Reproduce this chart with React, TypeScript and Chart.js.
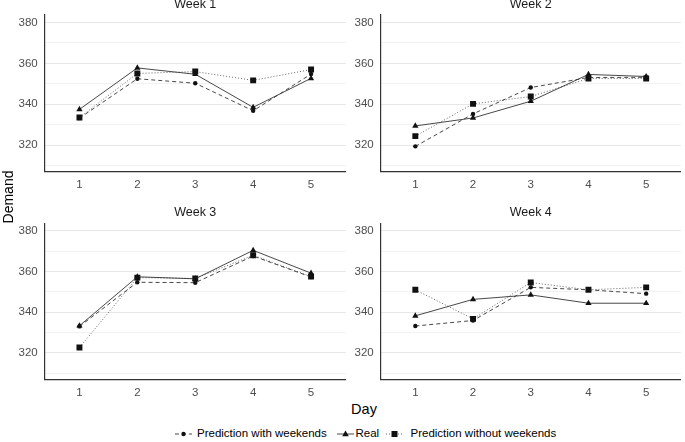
import React, { useEffect, useRef } from "react";
import { Chart, registerables } from "chart.js";
Chart.register(...registerables);

const FONT = "'Liberation Sans', Arial, Helvetica, sans-serif";
Chart.defaults.font.family = FONT;

// ---- data ----
const days = [1, 2, 3, 4, 5];
const weekTitles = ["Week 1", "Week 2", "Week 3", "Week 4"];
const seriesNames = ["Prediction with weekends", "Real", "Prediction without weekends"];
const yGridValues = [310, 320, 330, 340, 350, 360, 370, 380];
const yLabelValues = [320, 340, 360, 380];

const withWeekendsW1 = [333.2, 352.5, 350.3, 336.8, 354.8];
const realW1 = [337.5, 357.8, 354.7, 338.5, 352.7];
const withoutWeekendsW1 = [333.5, 355.1, 356.0, 351.7, 357.0];

const withWeekendsW2 = [319.4, 335.3, 348.2, 353.1, 353.2];
const realW2 = [329.4, 333.3, 341.5, 354.6, 353.6];
const withoutWeekendsW2 = [324.4, 340.2, 343.8, 352.6, 352.6];

const withWeekendsW3 = [333.0, 354.7, 354.5, 367.6, 357.3];
const realW3 = [333.3, 357.4, 356.4, 370.4, 359.2];
const withoutWeekendsW3 = [322.6, 357.0, 356.6, 368.0, 357.5];

const withWeekendsW4 = [333.2, 335.9, 352.2, 351.0, 349.1];
const realW4 = [338.2, 346.3, 348.5, 344.4, 344.4];
const withoutWeekendsW4 = [351.0, 336.7, 354.6, 351.0, 352.2];

const weekSeries = [
  [withWeekendsW1, realW1, withoutWeekendsW1],
  [withWeekendsW2, realW2, withoutWeekendsW2],
  [withWeekendsW3, realW3, withoutWeekendsW3],
  [withWeekendsW4, realW4, withoutWeekendsW4],
];

// ---- styles / layout ----
const seriesStyles = [
  { dash: [4, 3], point: "circle", radius: 2.2, line: "#333333" },
  { dash: [], point: "triangle", radius: 3.6, line: "#333333" },
  { dash: [1, 2], point: "rect", radius: 4.2, line: "#555555" },
];

const panels = [
  { left: 0, top: 0, w: 350, h: 200, yW: 44.7, padTop: 15, padRight: 4, xH: 28.3 },
  { left: 350, top: 0, w: 335, h: 200, yW: 30.7, padTop: 15, padRight: 2, xH: 28.3 },
  { left: 0, top: 200, w: 350, h: 200, yW: 44.7, padTop: 23.3, padRight: 4, xH: 20.7 },
  { left: 350, top: 200, w: 335, h: 200, yW: 30.7, padTop: 23.3, padRight: 2, xH: 20.7 },
];

function Panel({ idx }: { idx: number }) {
  const ref = useRef<HTMLCanvasElement>(null);
  const p = panels[idx];
  useEffect(() => {
    const title = weekTitles[idx];
    const titlePlugin = {
      id: "panelTitle",
      afterDraw(chart: any) {
        const { ctx, chartArea } = chart;
        ctx.save();
        ctx.font = `12.5px ${FONT}`;
        ctx.fillStyle = "#1a1a1a";
        ctx.textAlign = "center";
        ctx.textBaseline = "middle";
        ctx.fillText(title, (chartArea.left + chartArea.right) / 2, chartArea.top - 10.8);
        ctx.restore();
      },
    };
    const datasets = weekSeries[idx].map((vals, s) => {
      const st = seriesStyles[s];
      return {
        label: seriesNames[s],
        data: days.map((d, i) => ({ x: d, y: vals[i] })),
        borderColor: st.line,
        borderWidth: 0.9,
        borderDash: st.dash,
        pointStyle: st.point,
        pointRadius: st.radius,
        pointBackgroundColor: "#111111",
        pointBorderColor: "#111111",
        pointBorderWidth: 0,
        tension: 0,
        fill: false,
      };
    });
    const chart = new Chart(ref.current!, {
      type: "line",
      data: { datasets } as any,
      options: {
        responsive: false,
        animation: false,
        events: [],
        layout: { padding: { top: p.padTop, right: p.padRight, left: 0, bottom: 0 } },
        plugins: { legend: { display: false }, tooltip: { enabled: false }, title: { display: false } },
        scales: {
          x: {
            type: "linear",
            min: 0.4,
            max: 5.6,
            afterBuildTicks: (scale: any) => {
              scale.ticks = days.map((d) => ({ value: d }));
            },
            afterFit: (scale: any) => {
              scale.height = p.xH;
            },
            grid: { display: false, drawTicks: false },
            border: { display: true, color: "#333333", width: 1.2 },
            ticks: {
              color: "#4d4d4d",
              font: { size: 11.5, family: FONT },
              padding: 6.3,
              maxRotation: 0,
              callback: (v: any) => String(v),
            },
          },
          y: {
            type: "linear",
            min: 307,
            max: 383.7,
            afterBuildTicks: (scale: any) => {
              scale.ticks = yGridValues.map((v) => ({ value: v }));
            },
            afterFit: (scale: any) => {
              scale.width = p.yW;
            },
            grid: {
              drawTicks: false,
              color: (ctx: any) =>
                ctx.tick && yLabelValues.includes(ctx.tick.value) ? "#e6e6e6" : "#f1f1f1",
              lineWidth: 1,
            },
            border: { display: true, color: "#333333", width: 1.2 },
            ticks: {
              color: "#4d4d4d",
              font: { size: 11.5, family: FONT },
              padding: 7,
              callback: (v: any) => (yLabelValues.includes(v) ? String(v) : ""),
            },
          },
        },
      } as any,
      plugins: [titlePlugin],
    });
    return () => chart.destroy();
  }, [idx]);
  return (
    <canvas
      ref={ref}
      width={p.w}
      height={p.h}
      style={{ position: "absolute", left: p.left, top: p.top, width: p.w, height: p.h }}
    />
  );
}

function LegendKey({ s }: { s: number }) {
  const st = seriesStyles[s];
  let marker: any;
  if (st.point === "circle") marker = <circle cx={8.5} cy={5} r={2.2} fill="#111" />;
  else if (st.point === "triangle") marker = <polygon points="8.5,1.6 11.8,7.3 5.2,7.3" fill="#111" />;
  else marker = <rect x={5.5} y={2} width={6} height={6} fill="#111" />;
  return (
    <svg width={17} height={10} style={{ display: "block" }}>
      <line
        x1={0}
        y1={5}
        x2={17}
        y2={5}
        stroke={st.line}
        strokeWidth={0.9}
        strokeDasharray={st.dash.length ? st.dash.join(" ") : undefined}
      />
      {marker}
    </svg>
  );
}

const legendKeyCenters = [183, 345, 394];
const legendTextLefts = [197, 355.5, 410.5];

export default function App() {
  return (
    <div
      style={{
        position: "fixed",
        left: 0,
        top: 0,
        width: 685,
        height: 442,
        background: "#ffffff",
        fontFamily: FONT,
        overflow: "hidden",
      }}
    >
      {panels.map((_, i) => (
        <Panel key={i} idx={i} />
      ))}
      <div
        style={{
          position: "absolute",
          left: -42,
          top: 190,
          width: 100,
          height: 14,
          textAlign: "center",
          transform: "rotate(-90deg)",
          transformOrigin: "50% 50%",
          fontSize: 14,
          fontWeight: 400,
          color: "#000",
          whiteSpace: "nowrap",
          lineHeight: "14px",
        }}
      >
        Demand
      </div>
      <div
        style={{
          position: "absolute",
          left: 314,
          top: 402,
          width: 100,
          height: 15,
          textAlign: "center",
          fontSize: 14.5,
          color: "#000",
          whiteSpace: "nowrap",
          lineHeight: "15px",
        }}
      >
        Day
      </div>
      {seriesNames.map((name, s) => (
        <React.Fragment key={name}>
          <div
            style={{ position: "absolute", left: legendKeyCenters[s] - 8.5, top: 428.5 }}
          >
            <LegendKey s={s} />
          </div>
          <div
            style={{
              position: "absolute",
              left: legendTextLefts[s],
              top: 427,
              fontSize: 11.5,
              color: "#000",
              whiteSpace: "nowrap",
              lineHeight: "13px",
            }}
          >
            {name}
          </div>
        </React.Fragment>
      ))}
    </div>
  );
}
